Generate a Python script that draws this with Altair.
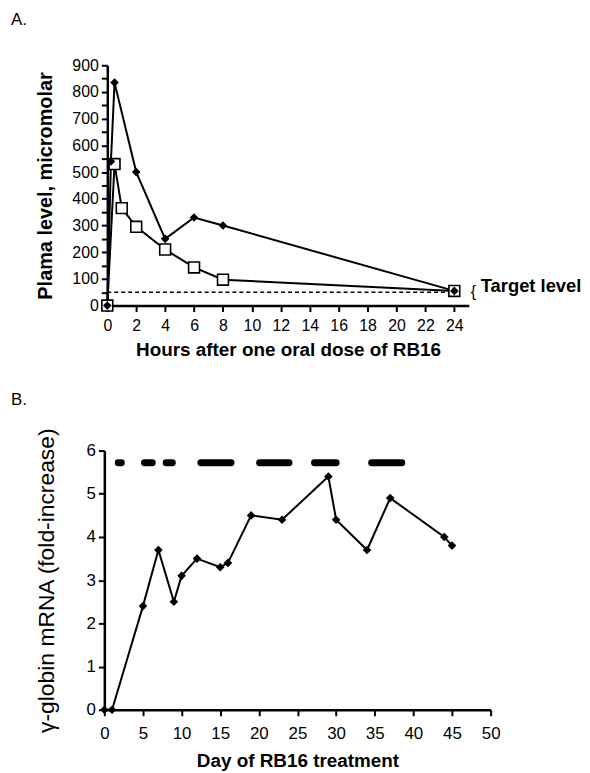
import altair as alt
import pandas as pd

# Panel A data
hours_diamond = [0, 0.25, 0.5, 2, 4, 6, 8, 24]
level_diamond = [0, 540, 835, 500, 250, 330, 300, 55]
hours_square = [0, 0.5, 1, 2, 4, 6, 8, 24]
level_square = [0, 530, 365, 295, 210, 143, 97, 55]
target_level = 50
x_ticks_a = list(range(0, 25, 2))
y_ticks_a = list(range(0, 901, 50))

# Panel B data
days = [0, 1, 5, 7, 9, 10, 12, 15, 16, 19, 23, 29, 30, 34, 37, 44, 45]
fold = [0, 0, 2.4, 3.7, 2.5, 3.1, 3.5, 3.3, 3.4, 4.5, 4.4, 5.4, 4.4, 3.7, 4.9, 4.0, 3.8]
dash_start = [1.8, 5.2, 8.0, 12.5, 20.1, 27.2, 34.6]
dash_end = [2.2, 6.2, 8.8, 16.4, 23.9, 30.0, 38.5]
dash_level = 5.72
x_ticks_b = list(range(0, 51, 5))
y_ticks_b = list(range(0, 7))

FONT = "Liberation Sans"
WA, HA = 364, 242
WB, HB = 386, 261

# ---- Panel A ----
sx_a = alt.Scale(domain=[0, 25], nice=False)
sy_a = alt.Scale(domain=[0, 900], nice=False)
ax_a = alt.Axis(values=x_ticks_a, title="Hours after one oral dose of RB16",
                titleFontSize=19, titleFontWeight="bold", labelFontSize=16,
                labelPadding=6, titlePadding=7, labelOverlap=False, labelFlush=False)
ay_a = alt.Axis(values=y_ticks_a, labelExpr="datum.value % 100 == 0 ? datum.label : ''",
                title="Plama level, micromolar", titleFontSize=20,
                titleFontWeight="bold", labelFontSize=16, labelPadding=3,
                titlePadding=17, labelOverlap=False, labelFlush=False)

dfd = pd.DataFrame({"h": hours_diamond, "v": level_diamond})
dfs = pd.DataFrame({"h": hours_square, "v": level_square})
tdf = pd.DataFrame({"h": [0], "h2": [24], "v": [target_level]})

xa = alt.X("h:Q", scale=sx_a, axis=ax_a)
ya = alt.Y("v:Q", scale=sy_a, axis=ay_a)

line_d = alt.Chart(dfd).mark_line(color="black", strokeWidth=2).encode(x=xa, y=ya)
line_s = alt.Chart(dfs).mark_line(color="black", strokeWidth=2).encode(x=xa, y=ya)
pts_s = alt.Chart(dfs).mark_point(shape="square", size=120, filled=False, fill="white",
                                  fillOpacity=1, color="black", strokeWidth=1.6,
                                  opacity=1).encode(x=xa, y=ya)
pts_d = alt.Chart(dfd).mark_point(shape="diamond", size=75, filled=True, color="black",
                                  opacity=1).encode(x=xa, y=ya)
target = alt.Chart(tdf).mark_rule(color="black", strokeWidth=1.5, strokeDash=[4, 3]).encode(
    x=xa, x2="h2:Q", y=ya)
ttext = alt.Chart(pd.DataFrame({"v": [target_level], "t": ["Target level"]})).mark_text(
    align="left", baseline="middle", font=FONT, fontSize=18.5, fontWeight="bold",
    color="black", dy=-6
).encode(y=ya, x=alt.value(WA + 12), text="t:N")
tbr = alt.Chart(pd.DataFrame({"v": [target_level], "t": ["{"]})).mark_text(
    align="left", baseline="middle", font=FONT, fontSize=16, color="black"
).encode(y=ya, x=alt.value(WA + 2), text="t:N")
lab_a = alt.Chart(pd.DataFrame({"t": ["A."]})).mark_text(
    align="left", baseline="middle", font=FONT, fontSize=17, color="black"
).encode(text="t:N", x=alt.value(-97), y=alt.value(-46))

panel_a = alt.layer(line_d, target, line_s, pts_s, pts_d, ttext, tbr, lab_a).properties(
    width=WA, height=HA)

# ---- Panel B ----
sx_b = alt.Scale(domain=[0, 50], nice=False, range=[-3, WB])
sy_b = alt.Scale(domain=[0, 6], nice=False)
ax_b = alt.Axis(values=x_ticks_b, title="Day of RB16 treatment",
                titleFontSize=19, titleFontWeight="bold", labelFontSize=17,
                labelPadding=10, titlePadding=10, labelOverlap=False, labelFlush=False)
ay_b = alt.Axis(values=y_ticks_b, title="γ-globin mRNA (fold-increase)",
                titleFontSize=23, titleFontWeight="normal", labelFontSize=17,
                labelPadding=3, titlePadding=28, offset=3, labelOverlap=False,
                labelFlush=False)

dfb = pd.DataFrame({"d": days, "f": fold})
ddf = pd.DataFrame({"d": dash_start, "d2": dash_end, "f": [dash_level] * len(dash_start)})
xb = alt.X("d:Q", scale=sx_b, axis=ax_b)
yb = alt.Y("f:Q", scale=sy_b, axis=ay_b)

line_b = alt.Chart(dfb).mark_line(color="black", strokeWidth=2).encode(x=xb, y=yb)
pts_b = alt.Chart(dfb).mark_point(shape="diamond", size=75, filled=True, color="black",
                                  opacity=1).encode(x=xb, y=yb)
dashes = alt.Chart(ddf).mark_rule(color="black", strokeWidth=7, strokeCap="round").encode(
    x=xb, x2="d2:Q", y=yb)
lab_b = alt.Chart(pd.DataFrame({"t": ["B."]})).mark_text(
    align="left", baseline="middle", font=FONT, fontSize=17, color="black"
).encode(text="t:N", x=alt.value(-97), y=alt.value(-51))

panel_b = alt.layer(line_b, dashes, pts_b, lab_b).properties(width=WB, height=HB)

chart = alt.vconcat(panel_a, panel_b, spacing=32).properties(
    padding={"left": 3, "top": 0, "right": 0, "bottom": 0}
).configure(font=FONT).configure_view(stroke=None).configure_axis(
    grid=False, domainColor="black", domainWidth=2.5, tickColor="black", tickWidth=2,
    tickSize=6, labelColor="black", titleColor="black", labelFont=FONT, titleFont=FONT
)

chart.save("out.html", embed_options={"renderer": "svg", "actions": False})
